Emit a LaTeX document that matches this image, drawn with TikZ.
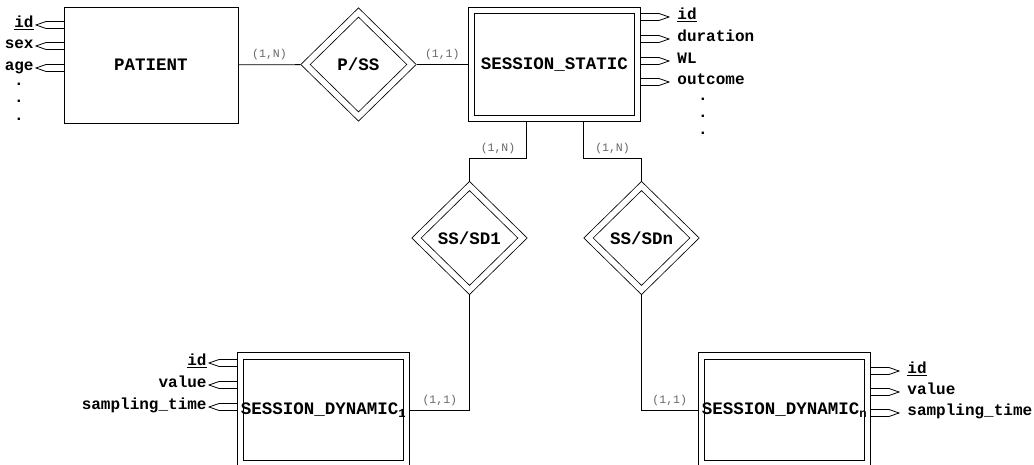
\documentclass[tikz,border=0pt]{standalone}
\usepackage{fontspec}
\newfontfamily\ermono{Liberation Mono}
\usetikzlibrary{
  shapes.geometric,
  positioning
}

\begin{document}
\begin{tikzpicture}[
      x=1pt,y=-1pt,line width=0.8pt,
      entity/.style={
         rectangle,
         draw,
         minimum width=174pt,
         minimum height=116pt,
         inner sep=0pt,
         font=\ermono\bfseries\fontsize{17.5}{20}\selectfont
      },
      weak entity/.style={
         entity,
         double,
         double distance=5.6pt,
         minimum width=166pt,
         minimum height=108pt,
         outer sep=3.6pt
      },
      relation/.style={
         diamond,
         draw,
         double,
         double distance=5.6pt,
         minimum width=109pt,
         minimum height=107pt,
         inner sep=0pt,
         outer sep=3.6pt,
         font=\ermono\bfseries\fontsize{17.5}{20}\selectfont
      },
      pointer/.style={
         fill=white,
         to path={++(0,-3.5) -- ++(#1*18,0) -- ++(#1*10,3.5) -- ++(-#1*10,3.5) -- ++(-#1*18,0)}
      },
      attr text/.style={
         font=\ermono\bfseries\fontsize{16}{18}\selectfont,
         inner sep=0pt,
         text height=1.6ex, text depth=.4ex
      },
      card/.style={
         font=\ermono\fontsize{11.5}{13}\selectfont,
         text=black!60,
         inner sep=2pt
      }
    ]
    \useasboundingbox (0,0) rectangle (1034,465);

    % entities and relations
    \node (pat) [entity] at (151,65) {PATIENT};
    \node (pss) [relation] at (358.5,64.5) {P/SS};
    \node (sst) [weak entity] at (554.5,64.5) {SESSION\_STATIC};
    \node (ssd1) [relation] at (469.5,238) {SS/SD1};
    \node (ssdn) [relation] at (641.5,238) {SS/SDn};
    \node (sd1) [weak entity] at (323.5,410) {SESSION\_DYNAMIC\textsubscript{1}};
    \node (sdn) [weak entity] at (784.5,410) {SESSION\_DYNAMIC\textsubscript{n}};

    % connectors
    \draw (pat) -- node[card, above=2pt] {(1,N)} (pss);
    \draw (pss) -- node[card, above=2pt] {(1,1)} (sst);
    \draw ([xshift=-28pt]sst.south) -- ++(0,36) -| node[card, above=2pt, pos=.25] {(1,N)} (ssd1.north);
    \draw ([xshift=29pt]sst.south) -- ++(0,36) -| node[card, above=2pt, pos=.25] {(1,N)} (ssdn.north);
    \draw (ssd1.south) |- node[card, above=2pt, pos=.75] {(1,1)} (sd1.east);
    \draw (ssdn.south) |- node[card, above=2pt, pos=.75] {(1,1)} (sdn.west);

    % attributes
    \foreach \y/\t [count=\i] in {25/\underline{id},46/sex,68/age} {
       \coordinate (pa\i) at (64,\y);
       \draw (pa\i) to[pointer=-1] (pa\i);
       \node (pat\i) [attr text, anchor=east] at ([xshift=-30pt]pa\i) {\t};
    }
    \foreach \y [count=\i] in {85,102,120}
       \node (pdot\i) [attr text, text height=, text depth=, anchor=base] at (19,\y+1) {.};

    \foreach \y/\t [count=\i] in {17/\underline{id},39/duration,61/WL,82/outcome} {
       \coordinate (sa\i) at (641,\y);
       \draw (sa\i) to[pointer=1] (sa\i);
       \node (sat\i) [attr text, anchor=west] at ([xshift=36pt]sa\i) {\t};
    }
    \foreach \y [count=\i] in {100,117,134}
       \node (sdot\i) [attr text, text height=, text depth=, anchor=base] at (703,\y+1) {.};

    \foreach \y/\t [count=\i] in {363/\underline{id},385/value,407/sampling\_time} {
       \coordinate (da\i) at (237,\y);
       \draw (da\i) to[pointer=-1] (da\i);
       \node (dat\i) [attr text, anchor=east] at ([xshift=-30pt]da\i) {\t};
    }
    \foreach \y/\t [count=\i] in {371/\underline{id},392/value,413/sampling\_time} {
       \coordinate (na\i) at (871,\y);
       \draw (na\i) to[pointer=1] (na\i);
       \node (nat\i) [attr text, anchor=west] at ([xshift=36pt]na\i) {\t};
    }
\end{tikzpicture}
\end{document}
